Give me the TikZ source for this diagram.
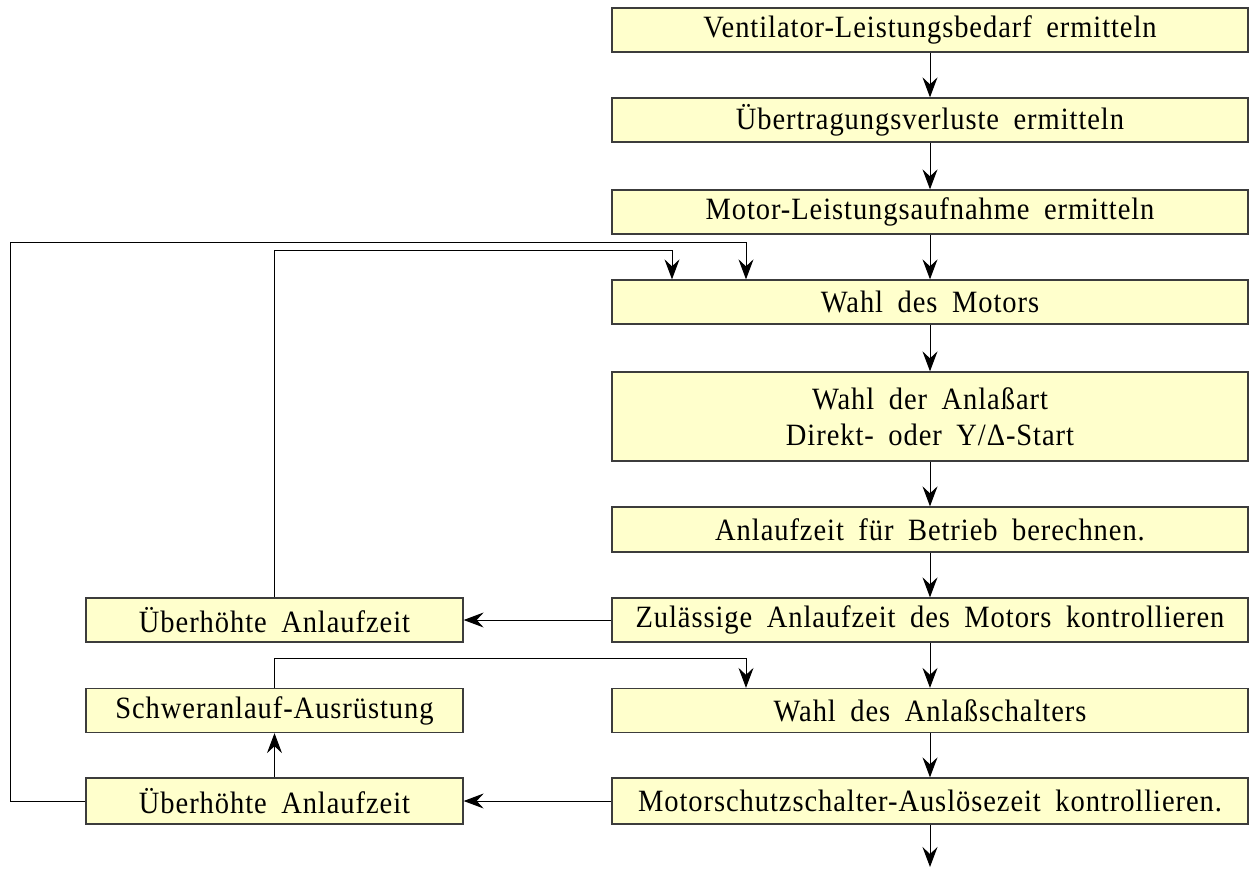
\documentclass[tikz,border=0pt]{standalone}
\usepackage{fontspec}
\setmainfont{Liberation Serif}[FakeStretch=0.92, WordSpace=1.8, LetterSpace=3]
\usetikzlibrary{arrows.meta}
\definecolor{boxfill}{RGB}{255,255,204}
\definecolor{boxline}{RGB}{60,60,60}
\tikzset{
  flowbox/.style={draw=boxline, fill=boxfill, line width=1.3pt, minimum height=44pt, inner sep=0pt, align=center, font=\fontsize{31}{36}\selectfont},
  rbox/.style={flowbox, minimum width=636pt},
  lbox/.style={flowbox, minimum width=377pt},
  conn/.style={line width=1pt, draw=black},
  arr/.style={conn, -{Stealth[length=20pt, width=15pt, inset=7pt]}}
}
\begin{document}
\begin{tikzpicture}[x=1pt, y=-1pt]
\useasboundingbox (0,0) rectangle (1251,868);
\node[rbox] (b1) at (930,30) {Ventilator-Leistungsbedarf ermitteln};
\node[rbox] (b2) at (930,120) {Übertragungsverluste ermitteln};
\node[rbox] (b3) at (930,212) {Motor-Leistungsaufnahme ermitteln};
\node[rbox] (b4) at (930,302) {Wahl des Motors};
\node[rbox, minimum height=89pt] (b5) at (930,416.5) {Wahl der Anlaßart\\Direkt- oder Y/Δ-Start};
\node[rbox, minimum height=45pt] (b6) at (930,529.5) {Anlaufzeit für Betrieb berechnen.};
\node[rbox] (b7) at (930,620) {Zulässige Anlaufzeit des Motors kontrollieren};
\node[rbox] (b8) at (930,710.5) {Wahl des Anlaßschalters};
\node[rbox, minimum height=46pt] (b9) at (930,801) {Motorschutzschalter-Auslösezeit kontrollieren.};
\node[lbox] (l1) at (274.5,620) {Überhöhte Anlaufzeit};
\node[lbox] (l2) at (274.5,710.5) {Schweranlauf-Ausrüstung};
\node[lbox, minimum height=46pt] (l3) at (274.5,801) {Überhöhte Anlaufzeit};
\coordinate (out) at (930,867);
\coordinate (k1) at (672,250);
\coordinate (k2) at (746,242);
\coordinate (k3) at (10,242);
\coordinate (k4) at (746,658);
\draw[arr] (b1) -- (b2);
\draw[arr] (b2) -- (b3);
\draw[arr] (b3) -- (b4);
\draw[arr] (b4) -- (b5);
\draw[arr] (b5) -- (b6);
\draw[arr] (b6) -- (b7);
\draw[arr] (b7) -- (b8);
\draw[arr] (b8) -- (b9);
\draw[arr] (b9) -- (out);
\draw[arr] (b7.west) -- (l1.east);
\draw[arr] (b9.west) -- (l3.east);
\draw[arr] (l3) -- (l2);
\draw[arr] (l1.north) |- (k1) -- (k1 |- b4.north);
\draw[arr] (l3.west) -| (k3) -- (k2) -- (k2 |- b4.north);
\draw[arr] (l2.north) |- (k4) -- (k4 |- b8.north);
\end{tikzpicture}
\end{document}
